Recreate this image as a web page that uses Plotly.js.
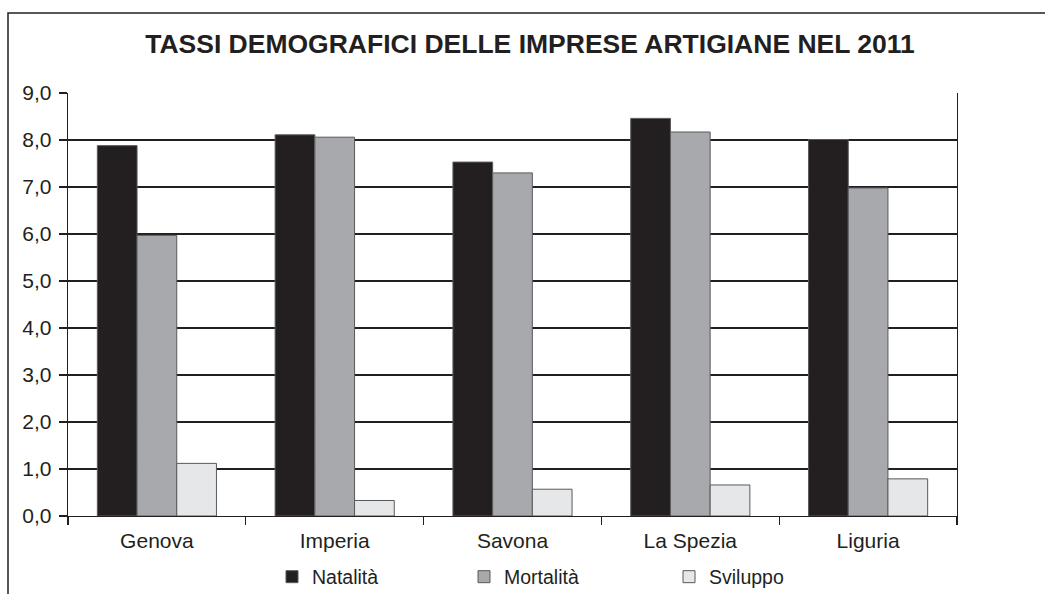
<!DOCTYPE html>
<html>
<head>
<meta charset="utf-8">
<script src="https://cdn.plot.ly/plotly-3.0.1.min.js"></script>
<style>html,body{margin:0;padding:0;background:#fff;}#chart{width:1045px;height:594px;}</style>
</head>
<body>
<div id="chart"></div>
<script>
const categories = ["Genova", "Imperia", "Savona", "La Spezia", "Liguria"];
const seriesNames = ["Natalità", "Mortalità", "Sviluppo"];
const natalita = [7.88, 8.11, 7.53, 8.46, 8.01];
const mortalita = [5.97, 8.06, 7.30, 8.17, 6.98];
const sviluppo = [1.12, 0.33, 0.57, 0.66, 0.79];
const yTicks = [0, 1, 2, 3, 4, 5, 6, 7, 8, 9];

const ink = "#231f20";
const fills = ["#231f20", "#a7a9ac", "#e6e7e8"];
const values = [natalita, mortalita, sviluppo];
const legendIds = ["legend", "legend2", "legend3"];

const traces = values.map((v, i) => ({
  type: "bar",
  name: seriesNames[i],
  x: categories,
  y: v,
  marker: {color: fills[i], line: {color: "#58595b", width: 1}},
  legend: legendIds[i],
  hoverinfo: "skip"
}));

const legendFont = {family: "Liberation Sans, Arial, sans-serif", size: 19.5, color: ink};
function legendAt(xpx) {
  return {
    orientation: "h", xref: "container", yref: "container",
    x: xpx / 1045, xanchor: "left", y: 1 - 577 / 594, yanchor: "middle",
    font: legendFont, bgcolor: "rgba(0,0,0,0)", borderwidth: 0,
    itemwidth: 30, itemclick: false
  };
}

const layout = {
  width: 1045, height: 594,
  margin: {l: 68, r: 88, t: 93, b: 78},
  paper_bgcolor: "#ffffff", plot_bgcolor: "#ffffff",
  separators: ",.",
  font: {family: "Liberation Sans, Arial, sans-serif", size: 21, color: ink},
  title: {
    text: "<b>TASSI DEMOGRAFICI DELLE IMPRESE ARTIGIANE NEL 2011</b>",
    font: {family: "Liberation Sans, Arial, sans-serif", size: 26.5, color: ink},
    xref: "container", yref: "container",
    x: 530 / 1045, xanchor: "center", y: 1 - 44 / 594, yanchor: "middle"
  },
  barmode: "group",
  bargap: 0.33,
  bargroupgap: 0,
  xaxis: {
    type: "category",
    showline: true, linecolor: ink, linewidth: 1.3,
    ticks: "outside", tickson: "boundaries", ticklen: 8, tickcolor: ink, tickwidth: 1.3,
    ticklabelstandoff: 5,
    showgrid: false, zeroline: false,
    tickfont: {size: 21, color: ink},
    fixedrange: true
  },
  yaxis: {
    range: [0, 9],
    tickvals: yTicks,
    tickformat: ".1f",
    showline: true, linecolor: ink, linewidth: 1.3, mirror: true,
    ticks: "outside", ticklen: 8, tickcolor: ink, tickwidth: 1.3,
    ticklabelstandoff: 3,
    showgrid: true, gridcolor: ink, gridwidth: 1.5,
    zeroline: false,
    tickfont: {size: 21, color: ink},
    fixedrange: true
  },
  showlegend: true,
  legend: legendAt(272),
  legend2: legendAt(464),
  legend3: legendAt(669),
  shapes: [{
    type: "rect", xref: "paper", yref: "paper",
    x0: (8 - 68) / 889, x1: 2, y0: -1, y1: 1 + 80 / 423,
    line: {color: ink, width: 1.5}, fillcolor: "rgba(0,0,0,0)", layer: "below"
  }]
};

Plotly.newPlot("chart", traces, layout, {displayModeBar: false, staticPlot: true});
</script>
</body>
</html>
